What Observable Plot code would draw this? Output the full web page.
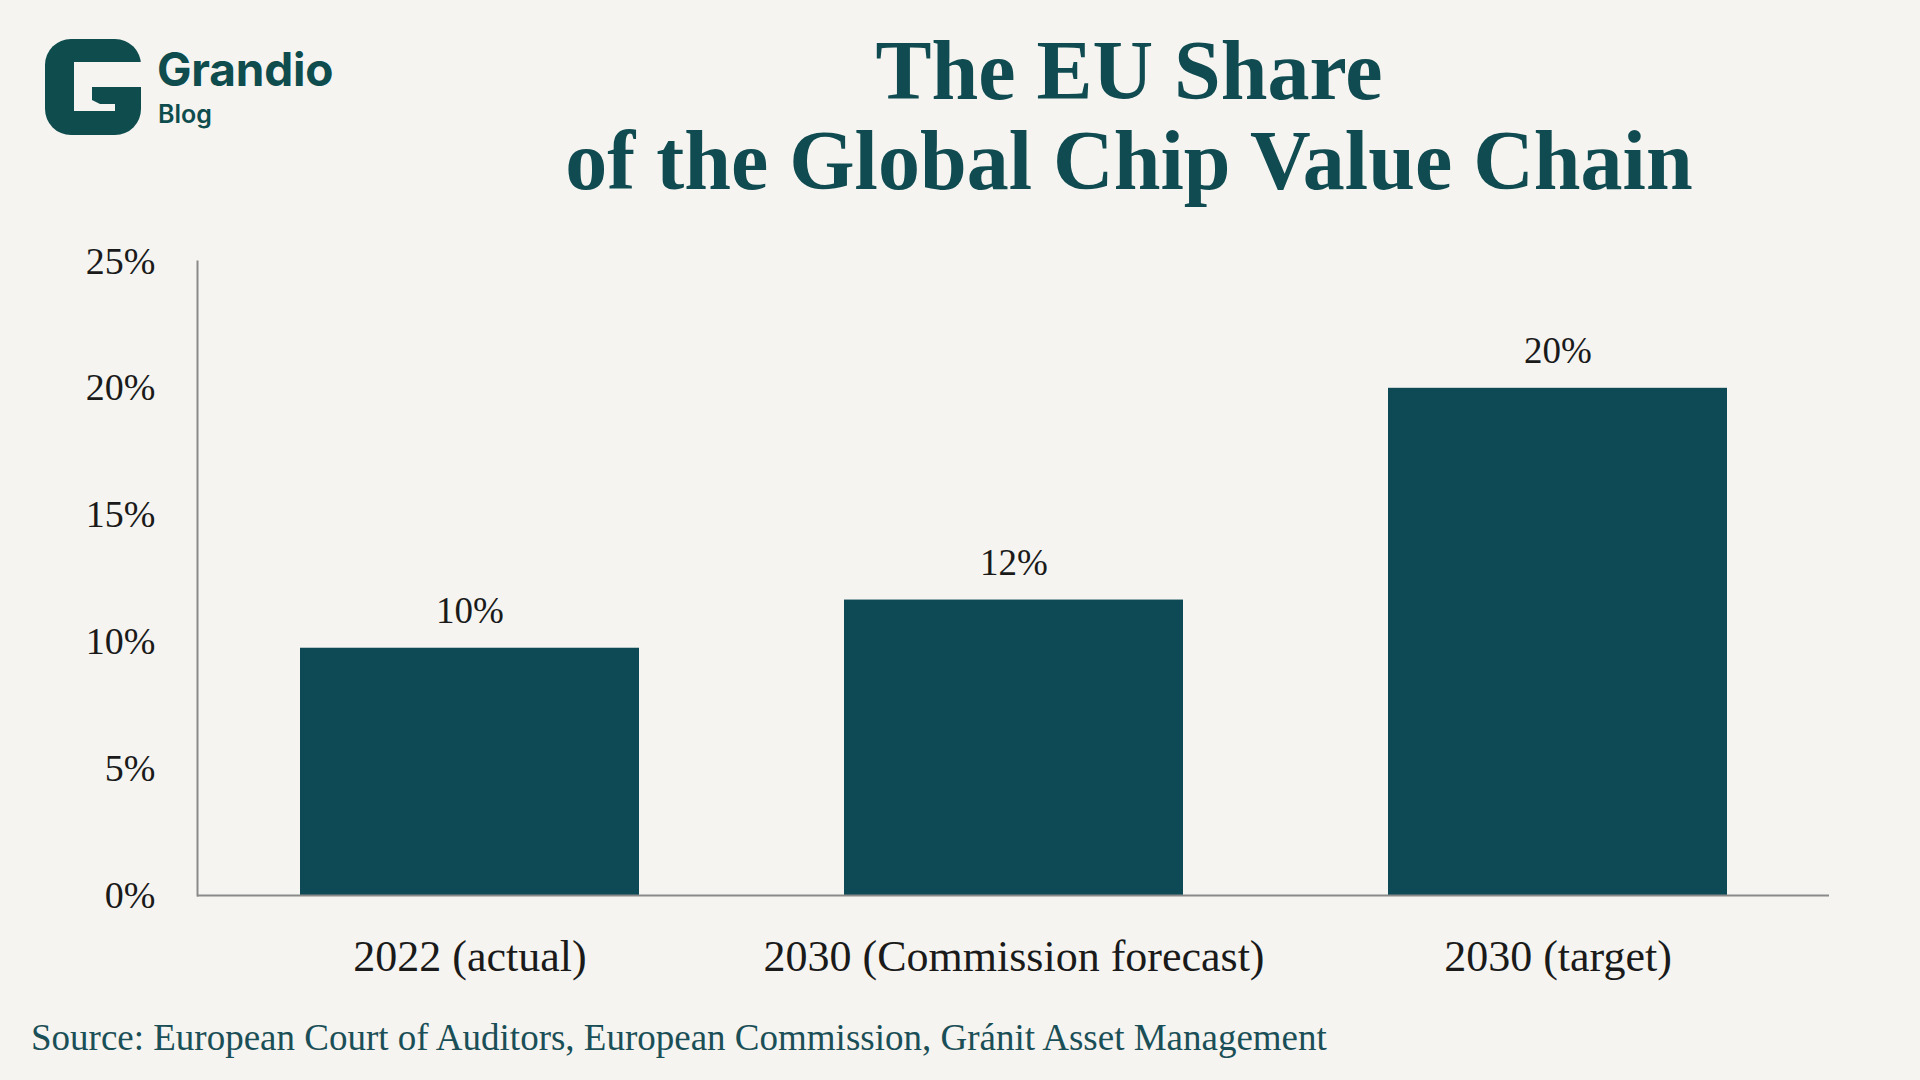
<!DOCTYPE html>
<html>
<head>
<meta charset="utf-8">
<script src="https://cdn.jsdelivr.net/npm/d3@7"></script>
<script src="https://cdn.jsdelivr.net/npm/@observablehq/plot@0.6"></script>
<style>
  html, body { margin: 0; padding: 0; background: #f5f4f0; width: 1920px; height: 1080px; overflow: hidden; }
  #page { position: relative; width: 1920px; height: 1080px; }
  #header { position: relative; height: 230px; }
  #logo { position: absolute; left: 45px; top: 39px; }
  #brand { position: absolute; left: 157px; top: 30px; }
  #title { position: absolute; left: 529px; width: 1200px; top: 26px; text-align: center;
           font-family: "Liberation Serif", serif; font-weight: 700; font-size: 84px; line-height: 90px; color: #0f4b50; }
  #chart { position: absolute; left: 0; top: 230px; }
  #source { position: absolute; left: 31px; top: 1016px; font-family: "Liberation Serif", serif; font-size: 37px; color: #1b4f57; white-space: nowrap; }
</style>
</head>
<body>
<div id="page">
  <div id="header">
    <svg id="logo" width="96" height="96" viewBox="0 0 96 96">
      <rect x="0" y="0" width="96" height="96" rx="26" fill="#0e4c4e"/>
      <path d="M29,23 H96 V48 H47 V61 L55,65 H70 V72 H29 Z" fill="#f5f4f0"/>
    </svg>
    <svg id="brand" width="220" height="110">
      <text x="0" y="56" font-family="Inter, 'Noto Sans', sans-serif" fill="#0e4c4e" font-size="46" font-weight="700" letter-spacing="-0.2">Grandio</text>
      <text x="1" y="93" font-family="Inter, 'Noto Sans', sans-serif" fill="#0e4c4e" font-size="25" font-weight="600">Blog</text>
    </svg>
    <div id="title">The EU Share<br>of the Global Chip Value Chain</div>
  </div>
  <div id="chart"></div>
  <div id="source">Source: European Court of Auditors, European Commission, Gránit Asset Management</div>
</div>
<script>
const categories = ["2022 (actual)", "2030 (Commission forecast)", "2030 (target)"];
const shares = [9.75, 11.65, 20];
const valueLabels = ["10%", "12%", "20%"];
const yTicks = [0, 5, 10, 15, 20, 25];

const data = categories.map((c, i) => ({category: c, value: shares[i], label: valueLabels[i]}));

const chart = Plot.plot({
  width: 1920,
  height: 780,
  marginTop: 31,
  marginBottom: 115,
  marginLeft: 197,
  marginRight: 91,
  style: {background: "transparent", fontFamily: "'Liberation Serif', serif", fontSize: "38px", color: "#1a1a1a"},
  x: {domain: categories, paddingInner: 0.377, paddingOuter: 0.1885, label: null},
  y: {domain: [0, 25], label: null},
  marks: [
    Plot.barY(data, {x: "category", y: "value", fill: "#0d4a55"}),
    Plot.ruleY([0], {stroke: "#8a8a8a", strokeWidth: 2}),
    Plot.frame({anchor: "left", stroke: "#8a8a8a", strokeWidth: 2}),
    Plot.axisY({ticks: yTicks, tickFormat: d => d + "%", tickSize: 0, tickPadding: 42, fontSize: 38, label: null}),
    Plot.axisX({tickSize: 0, tickPadding: 44, fontSize: 44, label: null}),
    Plot.text(data, {x: "category", y: "value", text: "label", dy: -37, fontSize: 37, fill: "#1a1a1a"})
  ]
});
document.getElementById("chart").appendChild(chart);
</script>
</body>
</html>
